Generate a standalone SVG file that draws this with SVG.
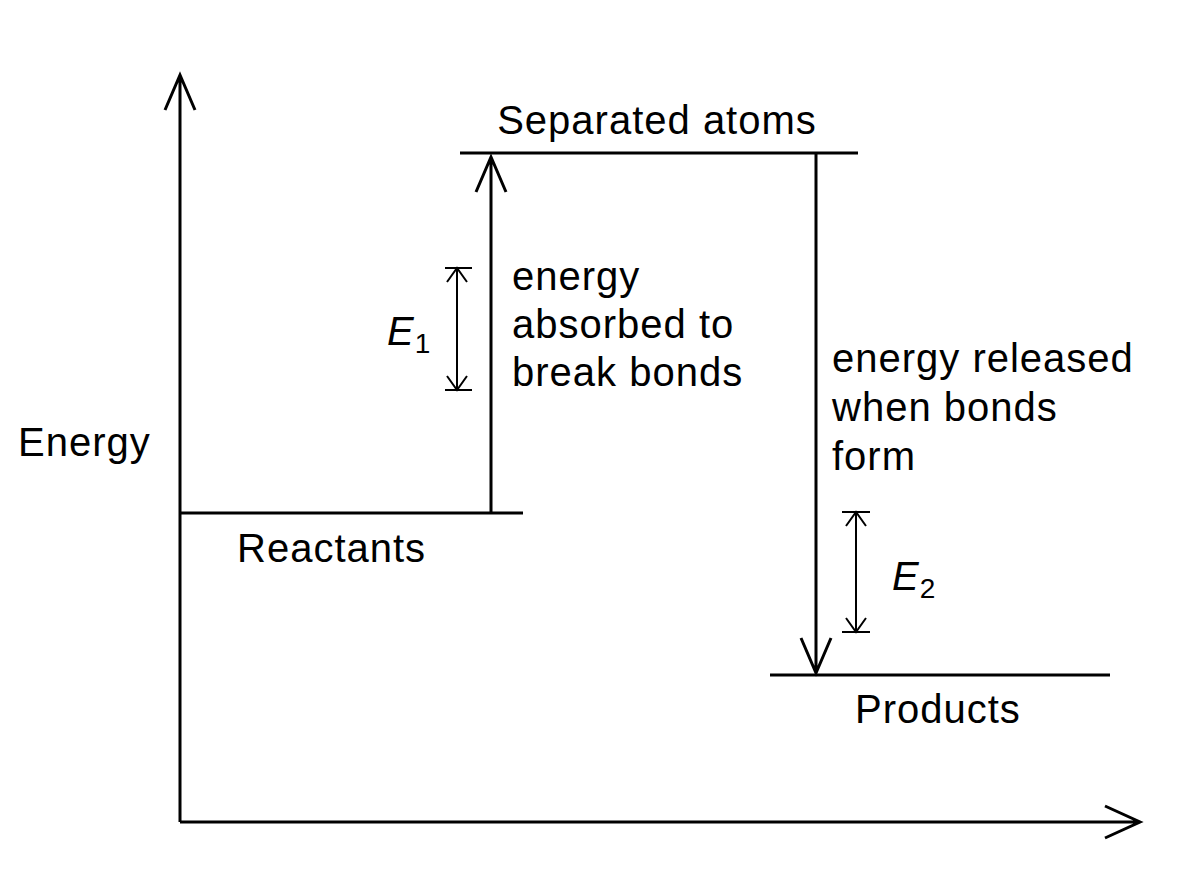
<svg xmlns="http://www.w3.org/2000/svg" width="1200" height="896" viewBox="0 0 1200 896">
<style>
.l{stroke:#000;stroke-width:3;fill:none}
.t{font-family:"Liberation Sans",Arial,sans-serif;font-size:40px;letter-spacing:1px;fill:#000}
.s{stroke:#000;stroke-width:2;fill:none}
</style>
<rect width="1200" height="896" fill="#fff"/>
<g id="connectors">
<path class="l" d="M180 822V77M165 110L180 75L195 110"/>
<path class="l" d="M180 822H1138M1105 806L1140 822L1105 838"/>
<path class="l" d="M491 513V157M476 192L491 157L506 192"/>
<path class="l" d="M816 153V671M801 638L816 673L831 638"/>
<path class="s" d="M445 268H472M445 390H472M457 268V390M447 282L457 268L467 282M447 376L457 390L467 376"/>
<path class="s" d="M842 512H870M842 632H870M856 512V632M846 526L856 512L866 526M846 618L856 632L866 618"/>
</g>
<g id="separated"><path class="l" d="M460 153H858"/><text class="t" x="657" y="134" text-anchor="middle">Separated atoms</text></g>
<g id="reactants"><path class="l" d="M180 513H523"/><text class="t" x="237" y="562">Reactants</text></g>
<g id="products"><path class="l" d="M770 675H1110"/><text class="t" x="855" y="723">Products</text></g>
<g id="labels">
<text class="t" x="18" y="456">Energy</text>
<text class="t" x="512" y="290">energy</text>
<text class="t" x="512" y="338">absorbed to</text>
<text class="t" x="512" y="386">break bonds</text>
<text class="t" x="832" y="372">energy released</text>
<text class="t" x="832" y="421">when bonds</text>
<text class="t" x="832" y="470">form</text>
<text class="t" x="387" y="345"><tspan font-style="italic">E</tspan><tspan font-size="28" dy="8">1</tspan></text>
<text class="t" x="892" y="590"><tspan font-style="italic">E</tspan><tspan font-size="28" dy="8">2</tspan></text>
</g>
</svg>
